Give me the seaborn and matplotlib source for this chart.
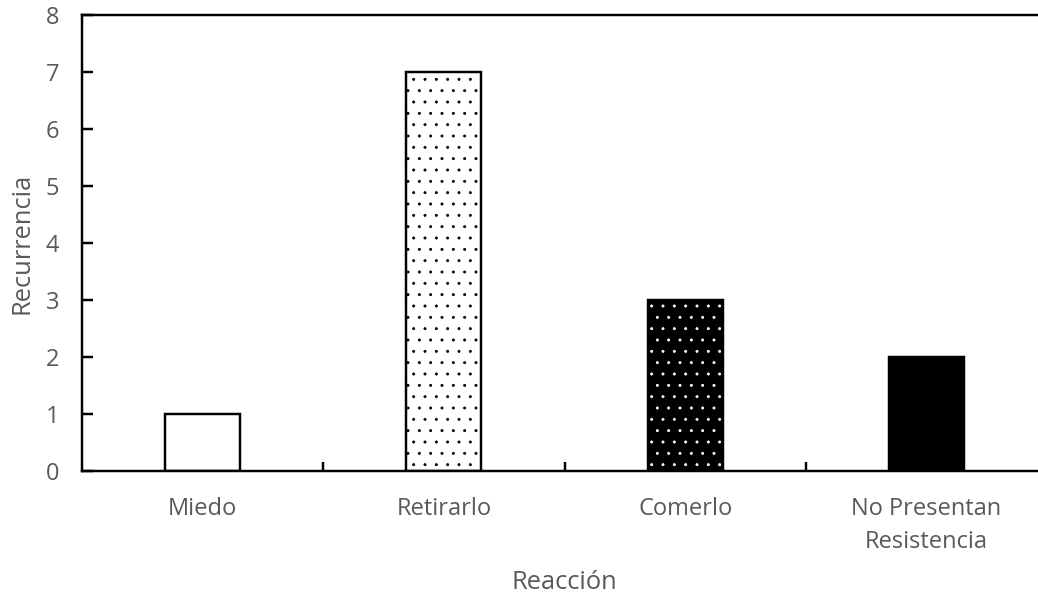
import matplotlib
matplotlib.use("Agg")
import matplotlib.pyplot as plt
import seaborn as sns
import pandas as pd

# Data
reacciones = ["Miedo", "Retirarlo", "Comerlo", "No Presentan\nResistencia"]
recurrencia = [1, 7, 3, 2]
y_ticks = [0, 1, 2, 3, 4, 5, 6, 7, 8]

sns.set_theme(style="white")
plt.rcParams["font.family"] = ["Open Sans", "DejaVu Sans"]
plt.rcParams["hatch.linewidth"] = 0.35

DPI = 136
fig = plt.figure(figsize=(1038 / DPI, 598 / DPI), dpi=DPI)
ax = fig.add_axes([82 / 1038, 1 - 471 / 598, (1047 - 82) / 1038, (471 - 15) / 598])

df = pd.DataFrame({"Reacción": reacciones, "Recurrencia": recurrencia})

# Filled bars with their patterns
sns.barplot(data=df, x="Reacción", y="Recurrencia", ax=ax, width=0.31,
            color="white", saturation=1, linewidth=0)
fills = ["white", "white", "black", "black"]
hatch_cols = ["black", "black", "white", "black"]
hatches = [None, "..", "..", None]
for bar, fc, hc, h in zip(ax.patches, fills, hatch_cols, hatches):
    bar.set_facecolor(fc)
    bar.set_edgecolor(hc)
    bar.set_linewidth(0)
    if h:
        bar.set_hatch(h)

# Black outlines on top
sns.barplot(data=df, x="Reacción", y="Recurrencia", ax=ax, width=0.31,
            fill=False, color="black", linewidth=1.3, edgecolor="black")

ax.set_ylim(0, 8)
ax.set_xlim(-0.5, 3.5)
ax.set_yticks(y_ticks)
ax.set_xticks(range(len(reacciones)))
ax.set_xticklabels(reacciones, linespacing=1.5)
ax.set_xticks([0.5, 1.5, 2.5], minor=True)

text_col = "#595959"
ax.tick_params(axis="y", direction="in", length=6, width=1.3, color="black",
               labelsize=12.5, labelcolor=text_col, pad=12, left=True)
ax.tick_params(axis="x", which="major", length=0, labelsize=12.5,
               labelcolor=text_col, pad=14)
ax.tick_params(axis="x", which="minor", direction="in", length=5, width=1.3,
               color="black", bottom=True)

for side in ["left", "top", "bottom", "right"]:
    ax.spines[side].set_visible(True)
    ax.spines[side].set_color("black")
    ax.spines[side].set_linewidth(1.3)

ax.set_xlabel("Reacción", fontsize=13.5, color=text_col, labelpad=8)
ax.set_ylabel("Recurrencia", fontsize=13.5, color=text_col, labelpad=6)

fig.savefig("out.png", dpi=DPI, facecolor="white")
